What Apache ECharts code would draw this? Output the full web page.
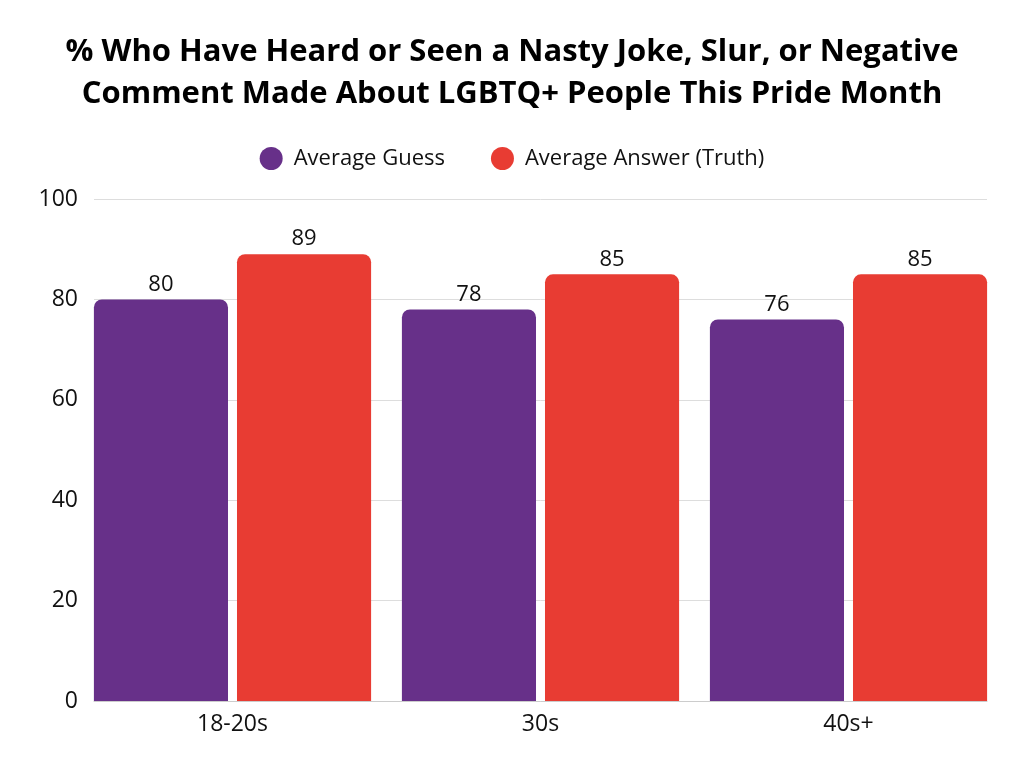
<!DOCTYPE html>
<html>
<head>
<meta charset="utf-8">
<script src="https://cdn.jsdelivr.net/npm/echarts@6/dist/echarts.min.js"></script>
<style>html,body{margin:0;padding:0;background:#fff}#c{width:1024px;height:768px}</style>
</head>
<body>
<div id="c"></div>
<script>
const categories = ['18-20s', '30s', '40s+'];
const guessValues = [80, 78, 76];
const truthValues = [89, 85, 85];
const yTicks = { min: 0, max: 100, interval: 20 };

const chart = echarts.init(document.getElementById('c'));
const font = 'Open Sans';
const labelStyle = { show: true, position: 'top', color: '#111', fontSize: 22, fontFamily: font, distance: 4 };
chart.setOption({
  animation: false,
  title: {
    text: '% Who Have Heard or Seen a Nasty Joke, Slur, or Negative\nComment Made About LGBTQ+ People This Pride Month',
    left: 'center', top: 26,
    textStyle: { fontFamily: font, fontWeight: 'bold', fontSize: 31, lineHeight: 42, color: '#000' }
  },
  legend: {
    top: 142, left: 'center', itemGap: 46,
    icon: 'circle', itemWidth: 23, itemHeight: 23,
    textStyle: { fontFamily: font, fontSize: 22, color: '#111', padding: [0, 0, 0, 6] },
    data: ['Average Guess', 'Average Answer (Truth)']
  },
  grid: [
    { left: 94, right: 37, top: 199, bottom: 67 },
    { left: 78.5, right: 21.5, top: 199, bottom: 67 }
  ],
  xAxis: [
    { gridIndex: 0, type: 'category', data: categories,
      axisLine: { lineStyle: { color: '#ccc' } }, axisTick: { show: false }, axisLabel: { show: false } },
    { gridIndex: 1, type: 'category', data: categories,
      axisLine: { show: false }, axisTick: { show: false },
      axisLabel: { fontFamily: font, fontSize: 23, color: '#111', margin: 12 } }
  ],
  yAxis: [
    { gridIndex: 0, type: 'value', min: yTicks.min, max: yTicks.max, interval: yTicks.interval,
      axisLine: { show: false }, axisTick: { show: false },
      splitLine: { lineStyle: { color: '#ddd' } },
      axisLabel: { fontFamily: font, fontSize: 23, color: '#111', margin: 16 } },
    { gridIndex: 1, type: 'value', min: yTicks.min, max: yTicks.max, interval: yTicks.interval,
      show: false, splitLine: { show: false } }
  ],
  series: [
    { name: 'Average Guess', type: 'bar', xAxisIndex: 1, yAxisIndex: 1, data: guessValues,
      barGap: '6.7%', barCategoryGap: '10%',
      itemStyle: { color: '#673089', borderRadius: [8, 8, 0, 0] }, label: labelStyle },
    { name: 'Average Answer (Truth)', type: 'bar', xAxisIndex: 1, yAxisIndex: 1, data: truthValues,
      itemStyle: { color: '#E83C33', borderRadius: [8, 8, 0, 0] }, label: labelStyle }
  ]
});
</script>
</body>
</html>
